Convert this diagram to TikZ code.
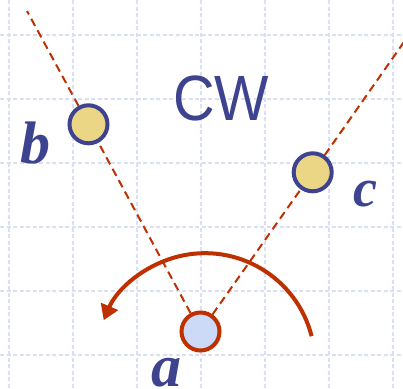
\documentclass[tikz,border=0pt]{standalone}
\usepackage{fontspec}
\setmainfont{Liberation Serif}
\newfontfamily\cwfont{Liberation Sans}
\usetikzlibrary{arrows.meta}
\definecolor{gridc}{HTML}{D9DFF6}
\definecolor{navy}{HTML}{3D438E}
\definecolor{rust}{HTML}{BF3000}
\definecolor{sand}{HTML}{EBD685}
\definecolor{pale}{HTML}{CCD9F7}
\tikzset{
  gridline/.style={draw=gridc, line width=1.5pt, dash pattern=on 4pt off 2.5pt},
  ray/.style={draw=rust, line width=2pt, dash pattern=on 8pt off 5pt},
  ptb/.style={circle, draw=navy, fill=sand, line width=4pt, minimum size=38pt, inner sep=0pt},
  pta/.style={circle, draw=rust, fill=pale, line width=4pt, minimum size=38pt, inner sep=0pt},
  lbl/.style={text=navy, font=\bfseries\itshape, inner sep=0pt},
  rot/.style={draw=rust, line width=4pt, -{Triangle[length=15pt,width=18pt]}},
}
\begin{document}
\begin{tikzpicture}[x=1pt,y=-1pt]
\useasboundingbox (0,0) rectangle (403,388);
\fill[white] (0,0) rectangle (403,388);
\foreach \gx in {9,73,137,201,265,329,393} \draw[gridline] (\gx,0) -- (\gx,388);
\foreach \gy in {35,99,163,227,291,355} \draw[gridline] (0,\gy) -- (403,\gy);
\node[ptb] (b) at (88.5,124.3) {};
\node[ptb] (c) at (312.7,172.3) {};
\node[pta] (a) at (200.5,331.5) {};
\coordinate (eb) at (27,11);
\coordinate (ec) at (405,40.5);
\draw[ray] (a) -- (b);
\draw[ray] (b) -- (eb);
\draw[ray] (a) -- (c);
\draw[ray] (c) -- (ec);
\coordinate (arcstart) at (311.6,336.2);
\draw[rot] (arcstart) arc[start angle=-14.2, end angle=-157, radius=110];
\node[text=navy, anchor=base, inner sep=0pt, font=\cwfont\fontsize{64}{64}\selectfont] (cw) at (221,120) {\scalebox{0.9}[1]{CW}};
\node[lbl, anchor=base, font=\bfseries\itshape\fontsize{60}{60}\selectfont] (lb) at (35,163) {b};
\node[lbl, anchor=base, font=\bfseries\itshape\fontsize{54}{54}\selectfont] (lc) at (365,206.5) {c};
\node[lbl, anchor=base, font=\bfseries\itshape\fontsize{60}{60}\selectfont] (la) at (166,386) {a};
\end{tikzpicture}
\end{document}
